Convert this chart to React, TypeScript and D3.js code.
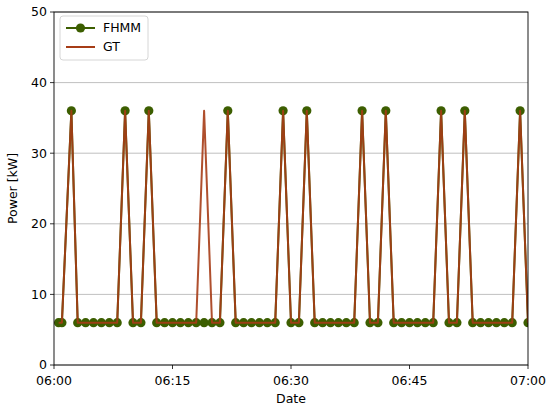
import React, { useEffect, useRef } from 'react';
import * as d3 from 'd3';

// sample times (HH:MM:SS), FHMM estimate and ground truth in kW
const times = [
  '06:00:35', '06:01:00', '06:02:12', '06:03:00', '06:04:00', '06:05:00', '06:06:00', '06:07:00',
  '06:08:00', '06:09:00', '06:10:00', '06:11:00', '06:12:00', '06:13:00', '06:14:00', '06:15:00',
  '06:16:00', '06:17:00', '06:18:00', '06:19:00', '06:20:00', '06:21:00', '06:22:00', '06:23:00',
  '06:24:00', '06:25:00', '06:26:00', '06:27:00', '06:28:00', '06:29:00', '06:30:00', '06:31:00',
  '06:32:00', '06:33:00', '06:34:00', '06:35:00', '06:36:00', '06:37:00', '06:38:00', '06:39:00',
  '06:40:00', '06:41:00', '06:42:00', '06:43:00', '06:44:00', '06:45:00', '06:46:00', '06:47:00',
  '06:48:00', '06:49:00', '06:50:00', '06:51:00', '06:52:00', '06:53:00', '06:54:00', '06:55:00',
  '06:56:00', '06:57:00', '06:58:00', '06:59:00', '07:00:00',
];

const fhmmPower = [
  6, 6, 36, 6, 6, 6, 6, 6,
  6, 36, 6, 6, 36, 6, 6, 6,
  6, 6, 6, 6, 6, 6, 36, 6,
  6, 6, 6, 6, 6, 36, 6, 6,
  36, 6, 6, 6, 6, 6, 6, 36,
  6, 6, 36, 6, 6, 6, 6, 6,
  6, 36, 6, 6, 36, 6, 6, 6,
  6, 6, 6, 36, 6,
];

const gtPower = [
  6, 6, 36, 6, 6, 6, 6, 6,
  6, 36, 6, 6, 36, 6, 6, 6,
  6, 6, 6, 36, 6, 6, 36, 6,
  6, 6, 6, 6, 6, 36, 6, 6,
  36, 6, 6, 6, 6, 6, 6, 36,
  6, 6, 36, 6, 6, 6, 6, 6,
  6, 36, 6, 6, 36, 6, 6, 6,
  6, 6, 6, 36, 6,
];

const xTickLabels = ['06:00', '06:15', '06:30', '06:45', '07:00'];
const yTicks = [0, 10, 20, 30, 40, 50];

const W = 550;
const H = 407;
const FONT = '"DejaVu Sans", sans-serif';
const FONT_SIZE = '12.5px';
const FHMM_COLOR = '#3c5e00';
const GT_COLOR = '#a63c16';

const parseTime = d3.timeParse('%H:%M:%S');
const parseTick = d3.timeParse('%H:%M');

const App = () => {
  const ref = useRef<SVGSVGElement>(null);

  const graph = () => {
    const svg = d3.select(ref.current);
    svg.selectAll('*').remove();

    const margin = { left: 54, right: 22, top: 12, bottom: 42 };
    const x0 = margin.left;
    const x1 = W - margin.right;
    const y0 = H - margin.bottom;
    const y1 = margin.top;

    const tickDates = xTickLabels.map((t) => parseTick(t) as Date);
    const x = d3.scaleTime()
      .domain([tickDates[0], tickDates[tickDates.length - 1]])
      .range([x0, x1]);
    const y = d3.scaleLinear().domain([0, 50]).range([y0, y1]);

    const rows = times.map((t, i) => ({ t: parseTime(t) as Date, fhmm: fhmmPower[i], gt: gtPower[i] }));

    svg.append('rect').attr('width', W).attr('height', H).attr('fill', '#ffffff');

    svg.append('defs').append('clipPath').attr('id', 'plot-clip')
      .append('rect')
      .attr('x', x0).attr('y', y1)
      .attr('width', x1 - x0).attr('height', y0 - y1);

    // horizontal grid
    svg.append('g')
      .selectAll('line')
      .data(yTicks)
      .enter().append('line')
      .attr('x1', x0).attr('x2', x1)
      .attr('y1', (d) => y(d)).attr('y2', (d) => y(d))
      .attr('stroke', '#b0b0b0')
      .attr('stroke-width', 0.8);

    const plot = svg.append('g').attr('clip-path', 'url(#plot-clip)');

    const fhmmLine = d3.line<any>().x((d) => x(d.t)).y((d) => y(d.fhmm));
    const gtLine = d3.line<any>().x((d) => x(d.t)).y((d) => y(d.gt));

    plot.append('path')
      .datum(rows)
      .attr('d', fhmmLine)
      .attr('fill', 'none')
      .attr('stroke', FHMM_COLOR)
      .attr('stroke-width', 2)
      .attr('stroke-linejoin', 'round');

    plot.append('g')
      .selectAll('circle')
      .data(rows)
      .enter().append('circle')
      .attr('cx', (d) => x(d.t))
      .attr('cy', (d) => y(d.fhmm))
      .attr('r', 4.6)
      .attr('fill', FHMM_COLOR);

    plot.append('path')
      .datum(rows)
      .attr('d', gtLine)
      .attr('fill', 'none')
      .attr('stroke', GT_COLOR)
      .attr('stroke-width', 2)
      .attr('stroke-opacity', 0.9)
      .attr('stroke-linejoin', 'round');

    // frame
    svg.append('rect')
      .attr('x', x0).attr('y', y1)
      .attr('width', x1 - x0).attr('height', y0 - y1)
      .attr('fill', 'none')
      .attr('stroke', '#000000')
      .attr('stroke-width', 0.9);

    const xAxis = svg.append('g').attr('transform', `translate(0,${y0})`);
    const xTick = xAxis.selectAll('g')
      .data(tickDates)
      .enter().append('g')
      .attr('transform', (d) => `translate(${x(d)},0)`);
    xTick.append('line').attr('y2', 4).attr('stroke', '#000000').attr('stroke-width', 0.8);
    xTick.append('text')
      .attr('y', 20)
      .attr('text-anchor', 'middle')
      .style('font-family', FONT)
      .style('font-size', FONT_SIZE)
      .attr('fill', '#000000')
      .text((d, i) => xTickLabels[i]);

    const yAxis = svg.append('g').attr('transform', `translate(${x0},0)`);
    const yTick = yAxis.selectAll('g')
      .data(yTicks)
      .enter().append('g')
      .attr('transform', (d) => `translate(0,${y(d)})`);
    yTick.append('line').attr('x2', -4).attr('stroke', '#000000').attr('stroke-width', 0.8);
    yTick.append('text')
      .attr('x', -7)
      .attr('dy', '0.35em')
      .attr('text-anchor', 'end')
      .style('font-family', FONT)
      .style('font-size', FONT_SIZE)
      .attr('fill', '#000000')
      .text((d) => String(d));

    svg.append('text')
      .attr('x', (x0 + x1) / 2)
      .attr('y', 403)
      .attr('text-anchor', 'middle')
      .style('font-family', FONT)
      .style('font-size', FONT_SIZE)
      .text('Date');

    svg.append('text')
      .attr('transform', `translate(17,${(y0 + y1) / 2}) rotate(-90)`)
      .attr('text-anchor', 'middle')
      .style('font-family', FONT)
      .style('font-size', FONT_SIZE)
      .text('Power [kW]');

    // legend
    const legend = svg.append('g').attr('transform', 'translate(60,16)');
    legend.append('rect')
      .attr('width', 88).attr('height', 44).attr('rx', 3)
      .attr('fill', '#ffffff').attr('fill-opacity', 0.8)
      .attr('stroke', '#cccccc').attr('stroke-width', 0.8);

    const entries = [
      { name: 'FHMM', color: FHMM_COLOR, marker: true },
      { name: 'GT', color: GT_COLOR, marker: false },
    ];
    const item = legend.selectAll('g.item')
      .data(entries)
      .enter().append('g')
      .attr('class', 'item')
      .attr('transform', (d, i) => `translate(0,${12 + i * 19})`);
    item.append('line')
      .attr('x1', 6).attr('x2', 35)
      .attr('stroke', (d) => d.color)
      .attr('stroke-width', 2);
    item.filter((d) => d.marker).append('circle')
      .attr('cx', 20.5).attr('r', 4.6)
      .attr('fill', (d) => d.color);
    item.append('text')
      .attr('x', 43)
      .attr('dy', '0.35em')
      .style('font-family', FONT)
      .style('font-size', FONT_SIZE)
      .text((d) => d.name);
  };

  useEffect(() => graph());

  return (
    <svg ref={ref} width={W} height={H} style={{ position: 'absolute', left: 0, top: 0 }}></svg>
  );
};

export default App;
